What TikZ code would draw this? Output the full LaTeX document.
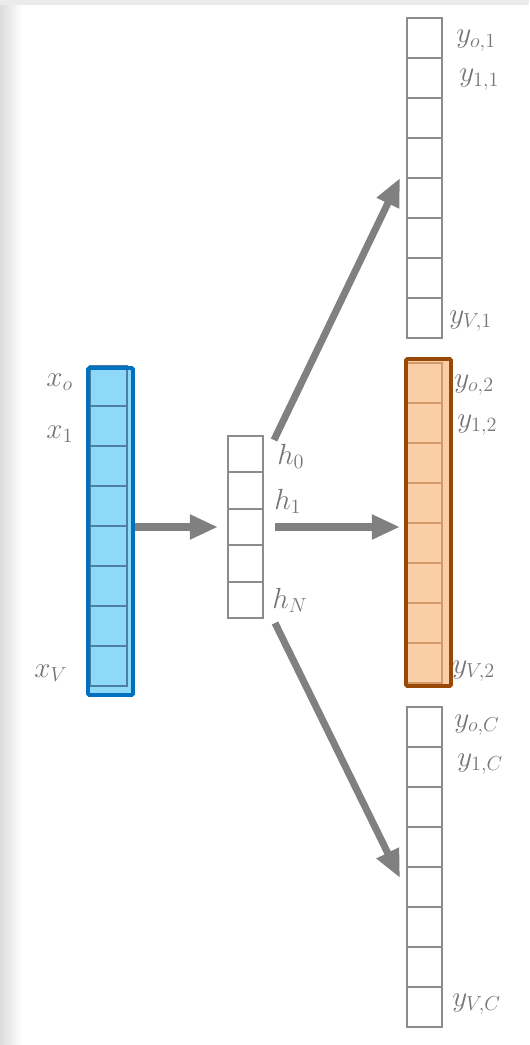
\documentclass[tikz,border=0pt]{standalone}
\usepackage{amsmath}
\usepackage{tikz}
\usetikzlibrary{arrows.meta,positioning,calc}
\DeclareMathSizes{20}{20}{15}{11}
\definecolor{cellgray}{RGB}{140,140,140}
\definecolor{labelgray}{RGB}{118,118,118}
\definecolor{arrowgray}{RGB}{128,128,128}
\definecolor{inblue}{RGB}{0,112,192}
\definecolor{infill}{RGB}{143,217,248}
\definecolor{outbrown}{RGB}{152,72,7}
\definecolor{outfill}{RGB}{250,207,168}

\begin{document}
\begin{tikzpicture}[x=0.025cm, y=-0.025cm,
    cell/.style={draw=cellgray, line width=1.4pt, minimum width=0.875cm,
      minimum height=1cm, inner sep=0pt, outer sep=0pt},
    hcell/.style={cell, minimum height=0.91cm},
    arr/.style={draw=arrowgray, line width=5pt,
      -{Triangle[length=0.7cm,width=0.58cm]}},
    lab/.style={text=labelgray, anchor=base west, inner sep=0pt,
      font=\fontsize{20}{24}\selectfont}]
        \useasboundingbox (0,0) rectangle (529,1045);
        \fill[white] (0,0) rectangle (529,1045);
        \shade[left color=black!14, right color=white] (0,0) rectangle (22,1045);
        \fill[black!8] (0,0) rectangle (529,5);

        % Input one-hot vector
        \fill[infill] (88,368) rectangle (133,695);
        \foreach \i in {1,...,8}
          \node[cell, minimum width=0.925cm, draw=inblue!45!cellgray] (in-\i)
            at (108.5,{366+40*\i-20}) {};
        \draw[line width=2.8pt, draw=inblue, rounded corners=1pt]
          ($(in-1.north west)+(-2,2)$) rectangle ($(in-8.south east)+(6,9)$);
        \node[lab] (lxo) at (46,386) {$x_o$};
        \node[lab] (lx1) at (46,438) {$x_1$};
        \node[lab] (lxV) at (34,677) {$x_V$};

        % Hidden layer
        \foreach \i in {1,...,5}
          \node[hcell] (h-\i) at (245.5,{436+36.4*\i-18.2}) {};
        \node[lab] (lh0) at (277,464) {$h_0$};
        \node[lab] (lh1) at (274,509) {$h_1$};
        \node[lab] (lhN) at (272,608) {$h_N$};

        % Output panels
        \fill[outfill] (406,359) rectangle (451,686);
        \foreach \i in {1,...,8} {
          \node[cell] (o1-\i) at (424.5,{18+40*\i-20}) {};
          \node[cell, draw=outbrown!40!outfill] (o2-\i) at (424.5,{363+40*\i-20}) {};
          \node[cell] (oC-\i) at (424.5,{707+40*\i-20}) {};
        }
        \draw[line width=2.8pt, draw=outbrown, rounded corners=1pt]
          ($(o2-1.north west)+(-1,-4)$) rectangle ($(o2-8.south east)+(9,3)$);

        \node[lab] (lyo1) at (456,43) {$y_{o,1}$};
        \node[lab] (ly11) at (459,82) {$y_{1,1}$};
        \node[lab] (lyV1) at (449,323) {$y_{V,1}$};
        \node[lab] (lyo2) at (454,387) {$y_{o,2}$};
        \node[lab] (ly12) at (457,427) {$y_{1,2}$};
        \node[lab] (lyV2) at (452,673) {$y_{V,2}$};
        \node[lab] (lyoC) at (454,727) {$y_{o,C}$};
        \node[lab] (ly1C) at (457,766) {$y_{1,C}$};
        \node[lab] (lyVC) at (452,1006) {$y_{V,C}$};

        % Connections
        \draw[arr] ($(in-5.east |- h-3.west)+(8,0)$) -- ($(h-3.west)+(-10,0)$);
        \draw[arr] ($(h-3.east)+(12,0)$) -- ($(h-3.east -| o2-1.west)+(-7,0)$);
        \draw[arr] ($(h-1.north east)+(11,4)$) -- ($(o1-4.south west)+(-7,0)$);
        \draw[arr] ($(h-5.south east)+(12,5)$) -- ($(oC-5.north west)+(-7,11)$);
      \end{tikzpicture}
\end{document}
